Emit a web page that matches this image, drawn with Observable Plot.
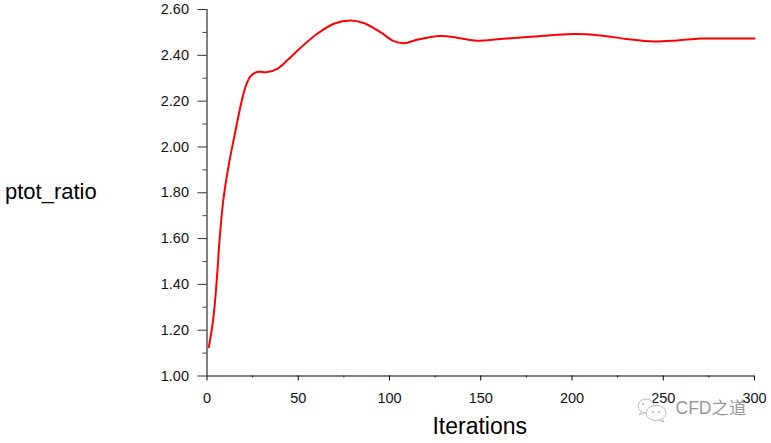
<!DOCTYPE html>
<html>
<head>
<meta charset="utf-8">
<script src="https://cdn.jsdelivr.net/npm/d3@7"></script>
<script src="https://cdn.jsdelivr.net/npm/@observablehq/plot@0.6"></script>
<style>
html,body{margin:0;padding:0;background:#fff;}
#c{position:relative;width:771px;height:443px;overflow:hidden;}
svg{display:block;}
#wm{position:absolute;left:637px;top:397px;}
</style>
</head>
<body>
<div id="c"></div>
<script>
const iterations = [1,2.8,4.1,5.6,7,8.7,10.5,12.9,15.6,18.7,21,23.8,27.5,33,38.5,44,51,60.4,69.5,78.6,85.8,95,102.3,108.2,115,128,137,148,160.8,179,200.8,215.5,230,244.7,257.6,270.4,285,300];
const ptotRatio = [1.126,1.213,1.30,1.446,1.606,1.752,1.854,1.963,2.07,2.19,2.26,2.308,2.327,2.327,2.341,2.378,2.431,2.494,2.538,2.552,2.541,2.501,2.462,2.453,2.468,2.484,2.477,2.464,2.471,2.482,2.493,2.487,2.471,2.46,2.465,2.473,2.473,2.473];
const xMajor = [0,50,100,150,200,250,300];
const xMinor = [25,75,125,175,225,275];
const yMajor = [1,1.2,1.4,1.6,1.8,2,2.2,2.4,2.6];
const yMinor = [1.1,1.3,1.5,1.7,1.9,2.1,2.3,2.5];
const font = "Liberation Sans, Arial, sans-serif";
const rows = iterations.map((x,i)=>({x, y: ptotRatio[i]}));

const chart = Plot.plot({
  width: 771, height: 443,
  marginLeft: 206.5, marginRight: 17, marginTop: 9, marginBottom: 67.5,
  style: {fontFamily: font, background: "#fff", color: "#000", overflow: "visible"},
  x: {domain: [0,300]},
  y: {domain: [1,2.6]},
  marks: [
    Plot.axisX({ticks: xMajor, tickSize: 5, tickPadding: 12, tickFormat: d=>String(d), fontSize: 14.5, label: null, stroke: "#000", fill: "#111"}),
    Plot.axisX({ticks: xMinor, tickSize: 2, text: null, label: null, stroke: "#333"}),
    Plot.axisY({ticks: yMajor, tickSize: 9, tickPadding: 9, tickFormat: d=>d.toFixed(2), fontSize: 14.5, label: null, stroke: "#333", fill: "#111"}),
    Plot.axisY({ticks: yMinor, tickSize: 4, text: null, label: null, stroke: "#444"}),
    Plot.ruleX([0], {stroke: "#000", strokeWidth: 1}),
    Plot.ruleY([1], {stroke: "#000", strokeWidth: 1}),
    Plot.line(rows, {x:"x", y:"y", stroke:"#ff0000", strokeWidth:2, curve:"catmull-rom"}),
    Plot.text(["Iterations"], {frameAnchor:"bottom", dy:58, dx:-1, text:d=>d, fontSize:23, fill:"#000", fontFamily:font}),
    Plot.text(["ptot_ratio"], {frameAnchor:"left", dx:-202, dy:-1, textAnchor:"start", text:d=>d, fontSize:22, fill:"#000", fontFamily:font}),
    Plot.text(["CFD之道"], {frameAnchor:"bottom-right", dx:-8, dy:38, textAnchor:"end", text:d=>d, fontSize:17.5, fill:"#999", fontFamily:"Liberation Sans, Noto Sans CJK SC, sans-serif"})
  ]
});
document.getElementById("c").appendChild(chart);

const wm = document.createElement("div");
wm.id = "wm";
wm.innerHTML = '<svg width="32" height="26" viewBox="0 0 32 26" fill="#fff" stroke="#aaa" stroke-width="0.8"><ellipse cx="9" cy="9" rx="8" ry="7"/><path d="M4 15 L2 18 L7 16"/><ellipse cx="19" cy="16" rx="10" ry="7.5"/><path d="M25 22 L27 25 L22 23"/><circle cx="16" cy="15" r="0.8"/><circle cx="22" cy="15" r="0.8"/><circle cx="6" cy="7" r="0.8"/></svg>';
document.getElementById("c").appendChild(wm);
</script>
</body>
</html>
